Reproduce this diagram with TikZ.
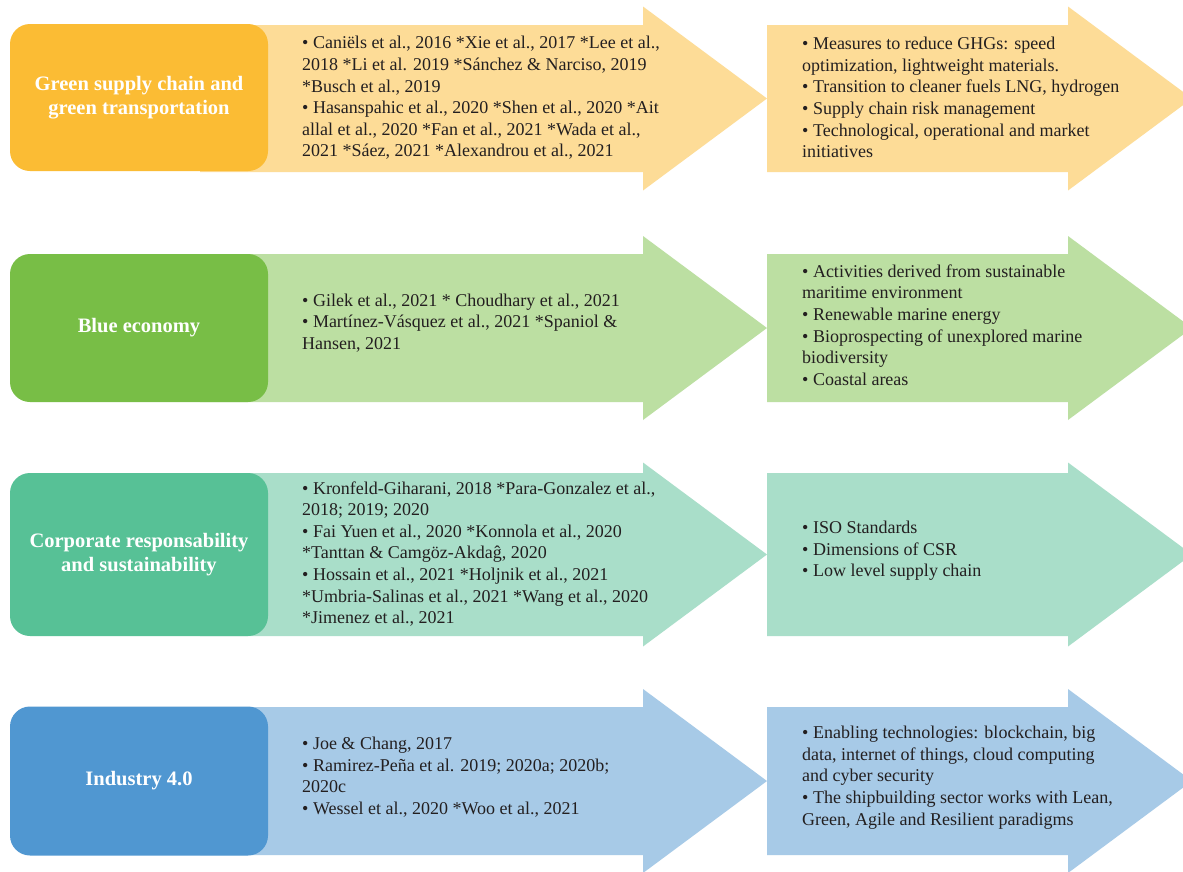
\documentclass[tikz,border=0pt]{standalone}
\usepackage{fontspec}
\setmainfont{Liberation Serif}
\definecolor{oned}{HTML}{FBBC34}
\definecolor{onel}{HTML}{FDDC97}
\definecolor{twod}{HTML}{78BE46}
\definecolor{twol}{HTML}{BCDFA2}
\definecolor{thrd}{HTML}{57C196}
\definecolor{thrl}{HTML}{A9DEC9}
\definecolor{foud}{HTML}{5097D1}
\definecolor{foul}{HTML}{A7CAE7}
\definecolor{txt}{HTML}{231F20}
% fat arrow: colour, left x, head base x, centre y, half body height
\newcommand\fatarrow[5]{\fill[#1] (#2,#4-#5) -- (#3,#4-#5) -- (#3,#4-92) -- (#3+124,#4) -- (#3,#4+92) -- (#3,#4+#5) -- (#2,#4+#5) -- cycle;}
\begin{document}
\begin{tikzpicture}[x=1pt,y=-1pt,
  titlebox/.style={rounded corners=20pt, minimum width=258pt, text=white,
    font=\fontsize{20.5}{24.6}\selectfont\bfseries, align=center, inner sep=0pt},
  bodytext/.style={text=txt, font=\fontsize{18}{21.6}\selectfont, align=left,
    anchor=west, inner sep=0pt}]
\useasboundingbox (0,0) rectangle (1183,871);
\clip (0,0) rectangle (1183,871);
\fill[white] (0,0) rectangle (1183,871);

% ---------- Row 1 ----------
\fatarrow{onel}{200}{643}{98.5}{73.5}
\fatarrow{onel}{767}{1068}{98.5}{73.5}
\node[titlebox, fill=oned, minimum height=147pt] (t1) at (139,97.5)
  {Green supply chain and\\green transportation};
\node[bodytext] (a1) at (302,98)
  {• Caniëls et al., 2016 *Xie et al., 2017 *Lee et al.,\\
   2018 *Li et al. 2019 *Sánchez \& Narciso, 2019\\
   *Busch et al., 2019\\
   • Hasanspahic et al., 2020 *Shen et al., 2020 *Ait\\
   allal et al., 2020 *Fan et al., 2021 *Wada et al.,\\
   2021 *Sáez, 2021 *Alexandrou et al., 2021};
\node[bodytext] (b1) at (802,97.5)
  {• Measures to reduce GHGs: speed\\
   optimization, lightweight materials.\\
   • Transition to cleaner fuels LNG, hydrogen\\
   • Supply chain risk management\\
   • Technological, operational and market\\
   initiatives};

% ---------- Row 2 ----------
\fatarrow{twol}{200}{643}{328}{74}
\fatarrow{twol}{767}{1068}{328}{74}
\node[titlebox, fill=twod, minimum height=148pt] (t2) at (139,328)
  {Blue economy};
\node[bodytext] (a2) at (302,323)
  {• Gilek et al., 2021 * Choudhary et al., 2021\\
   • Martínez-Vásquez et al., 2021 *Spaniol \&\\
   Hansen, 2021};
\node[bodytext] (b2) at (802,325)
  {• Activities derived from sustainable\\
   maritime environment\\
   • Renewable marine energy\\
   • Bioprospecting of unexplored marine\\
   biodiversity\\
   • Coastal areas};

% ---------- Row 3 ----------
\fatarrow{thrl}{200}{643}{554.5}{81.5}
\fatarrow{thrl}{767}{1068}{554.5}{81.5}
\node[titlebox, fill=thrd, minimum height=163pt] (t3) at (139,554.5)
  {Corporate responsability\\and sustainability};
\node[bodytext] (a3) at (302,554)
  {• Kronfeld-Giharani, 2018 *Para-Gonzalez et al.,\\
   2018; 2019; 2020\\
   • Fai Yuen et al., 2020 *Konnola et al., 2020\\
   *Tanttan \& Camgöz-Akdaĝ, 2020\\
   • Hossain et al., 2021 *Holjnik et al., 2021\\
   *Umbria-Salinas et al., 2021 *Wang et al., 2020\\
   *Jimenez et al., 2021};
\node[bodytext] (b3) at (802,551)
  {• ISO Standards\\
   • Dimensions of CSR\\
   • Low level supply chain};

% ---------- Row 4 ----------
\fatarrow{foul}{200}{643}{781}{74}
\fatarrow{foul}{767}{1068}{781}{74}
\node[titlebox, fill=foud, minimum height=149pt] (t4) at (139,781)
  {Industry 4.0};
\node[bodytext] (a4) at (302,777)
  {• Joe \& Chang, 2017\\
   • Ramirez-Peña et al. 2019; 2020a; 2020b;\\
   2020c\\
   • Wessel et al., 2020 *Woo et al., 2021};
\node[bodytext] (b4) at (802,777.5)
  {• Enabling technologies: blockchain, big\\
   data, internet of things, cloud computing\\
   and cyber security\\
   • The shipbuilding sector works with Lean,\\
   Green, Agile and Resilient paradigms};
\end{tikzpicture}
\end{document}
